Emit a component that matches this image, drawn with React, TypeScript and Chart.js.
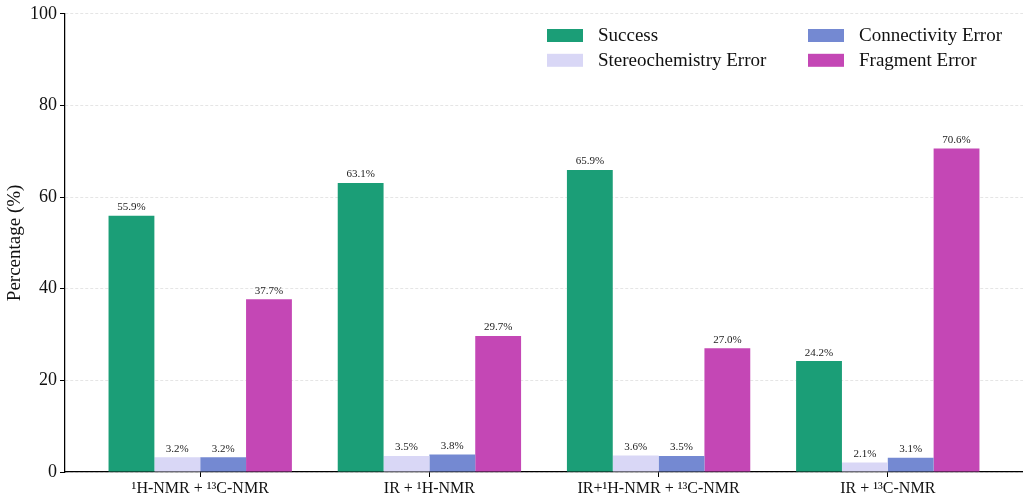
import { useEffect, useRef } from 'react';
import { Chart, registerables } from 'chart.js';

Chart.register(...registerables);

// Categories (input modality combinations)
const categories = ['¹H-NMR + ¹³C-NMR', 'IR + ¹H-NMR', 'IR+¹H-NMR + ¹³C-NMR', 'IR + ¹³C-NMR'];

// Outcome series, percent of samples
const seriesNames = ['Success', 'Stereochemistry Error', 'Connectivity Error', 'Fragment Error'];
const success = [55.9, 63.1, 65.9, 24.2];
const stereochemistryError = [3.2, 3.5, 3.6, 2.1];
const connectivityError = [3.2, 3.8, 3.5, 3.1];
const fragmentError = [37.7, 29.7, 27.0, 70.6];

const yTicks = [0, 20, 40, 60, 80, 100];

const seriesColors = ['#1b9e77', '#d9d7f6', '#7489d2', '#c447b5'];

const SERIF = "'Liberation Serif', 'Times New Roman', serif";

// Percentage labels above every bar
const valueLabels = {
  id: 'valueLabels',
  afterDatasetsDraw(chart: any) {
    const { ctx } = chart;
    ctx.save();
    ctx.font = `11px ${SERIF}`;
    ctx.fillStyle = '#222';
    ctx.textAlign = 'center';
    ctx.textBaseline = 'bottom';
    chart.data.datasets.forEach((ds: any, di: number) => {
      const meta = chart.getDatasetMeta(di);
      meta.data.forEach((bar: any, i: number) => {
        const v = ds.data[i].y as number;
        ctx.fillText(`${v.toFixed(1)}%`, bar.x, bar.y - 3);
      });
    });
    ctx.restore();
  },
};

// Two-column legend, filled column by column
const columnLegend = {
  id: 'columnLegend',
  afterDraw(chart: any) {
    const { ctx } = chart;
    const left = 547;
    const colGap = 261;
    const rowTop = 35.5;
    const rowGap = 24.8;
    const boxW = 36;
    const boxH = 13;
    ctx.save();
    ctx.font = `19px ${SERIF}`;
    ctx.textAlign = 'left';
    ctx.textBaseline = 'middle';
    chart.data.datasets.forEach((ds: any, di: number) => {
      const col = Math.floor(di / 2);
      const row = di % 2;
      const x = left + col * colGap;
      const y = rowTop + row * rowGap;
      ctx.fillStyle = ds.backgroundColor;
      ctx.fillRect(x, y - boxH / 2, boxW, boxH);
      ctx.fillStyle = '#111';
      ctx.fillText(ds.label, x + 51, y + 1);
    });
    ctx.restore();
  },
};

export default function App() {
  const canvasRef = useRef<HTMLCanvasElement | null>(null);

  useEffect(() => {
    if (!canvasRef.current) return;
    const series = [success, stereochemistryError, connectivityError, fragmentError];
    const chart = new Chart(canvasRef.current, {
      type: 'bar',
      data: {
        datasets: series.map((values, si) => ({
          label: seriesNames[si],
          data: values.map((v, i) => ({ x: i, y: v })),
          backgroundColor: seriesColors[si],
          borderWidth: 0,
          categoryPercentage: 0.8,
          barPercentage: 1.0,
        })),
      },
      options: {
        animation: false,
        responsive: false,
        maintainAspectRatio: false,
        layout: { padding: { top: 12, right: 0, left: 0, bottom: 0 } },
        plugins: {
          legend: { display: false },
          tooltip: { enabled: false },
        },
        scales: {
          x: {
            type: 'linear',
            min: -0.59,
            max: 3.59,
            offset: false,
            afterBuildTicks: (scale: any) => {
              scale.ticks = categories.map((_, i) => ({ value: i }));
            },
            afterFit: (scale: any) => {
              scale.height = 21;
            },
            ticks: {
              autoSkip: false,
              maxRotation: 0,
              minRotation: 0,
              padding: 2,
              color: '#111',
              font: { family: SERIF, size: 16 },
              callback: (value: any) => categories[value as number] ?? '',
            },
            grid: {
              offset: false,
              drawOnChartArea: false,
              drawTicks: true,
              tickLength: 5,
              tickColor: '#000',
              tickWidth: 1,
            },
            border: { color: '#000', width: 1.25 },
          },
          y: {
            min: 0,
            max: 100,
            afterBuildTicks: (scale: any) => {
              scale.ticks = yTicks.map((v) => ({ value: v }));
            },
            afterFit: (scale: any) => {
              scale.width = 65;
            },
            ticks: {
              padding: 3,
              color: '#111',
              font: { family: SERIF, size: 18 },
            },
            grid: {
              color: 'rgba(0,0,0,0.13)',
              lineWidth: 0.8,
              tickColor: '#000',
              tickWidth: 1,
              tickLength: 5,
              tickBorderDash: [],
            },
            border: { color: '#000', width: 1.25, dash: [3, 2] },
            title: {
              display: true,
              text: 'Percentage (%)',
              color: '#111',
              font: { family: SERIF, size: 19 },
              padding: { top: 4, bottom: 0 },
            },
          },
        },
      },
      plugins: [valueLabels, columnLegend],
    });
    return () => chart.destroy();
  }, []);

  return (
    <div style={{ position: 'fixed', left: 0, top: 0, width: 1023, height: 493, background: '#fff' }}>
      <canvas ref={canvasRef} width={1023} height={493} style={{ display: 'block' }} />
    </div>
  );
}
